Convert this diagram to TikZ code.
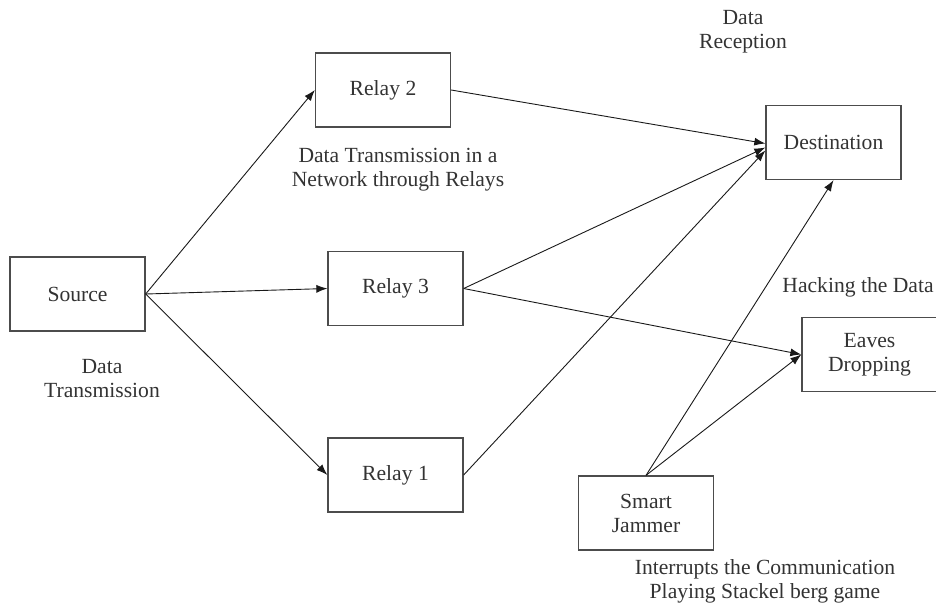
\documentclass[tikz,border=0pt]{standalone}
\usepackage{fontspec}
\setmainfont{Liberation Serif}
\usetikzlibrary{arrows.meta,calc}
\begin{document}
\begin{tikzpicture}[x=1pt,y=-1pt,
  box/.style={draw=black!70,line width=1.3pt,minimum width=135pt,minimum height=74pt,inner sep=0pt,align=center,font=\fontsize{21.6}{24}\selectfont,text=black!80},
  lbl/.style={align=center,inner sep=0pt,font=\fontsize{21.6}{24}\selectfont,text=black!80},
  arr/.style={draw=black!90,line width=0.9pt,-{Latex[length=11pt,width=8pt]}}]
\useasboundingbox (0,0) rectangle (936,606);
\node[box] (src) at (77.5,294) {Source};
\node[box] (r2) at (383,90) {Relay 2};
\node[box] (r3) at (395.5,288.5) {Relay 3};
\node[box] (r1) at (395.5,475) {Relay 1};
\node[box] (dest) at (833.5,142.5) {Destination};
\node[box] (eav) at (869.5,354.5) {Eaves\\Dropping};
\node[box] (jam) at (646,513) {Smart\\Jammer};
\node[lbl] (t1) at (743,32) {Data\\Reception};
\node[lbl] (t2) at (398,170) {Data Transmission in a\\Network through Relays};
\node[lbl] (t3) at (102,379) {Data\\Transmission};
\node[lbl] (t4) at (858,287) {Hacking the Data};
\node[lbl] (t5) at (765,581) {Interrupts the Communication\\Playing Stackel berg game};
\draw[arr] (src.east) -- (r2.west);
\draw[arr] (src.east) -- (r3.west);
\draw[arr] (src.east) -- (r1.west);
\draw[arr] (r2.east) -- ($(dest.west)+(0,1)$);
\draw[arr] (r3.east) -- ($(dest.west)+(0,5)$);
\draw[arr] (r1.east) -- ($(dest.west)+(0,8)$);
\draw[arr] (r3.east) -- (eav.west);
\draw[arr] (jam.north) -- (dest.south);
\draw[arr] (jam.north) -- (eav.west);
\end{tikzpicture}
\end{document}
